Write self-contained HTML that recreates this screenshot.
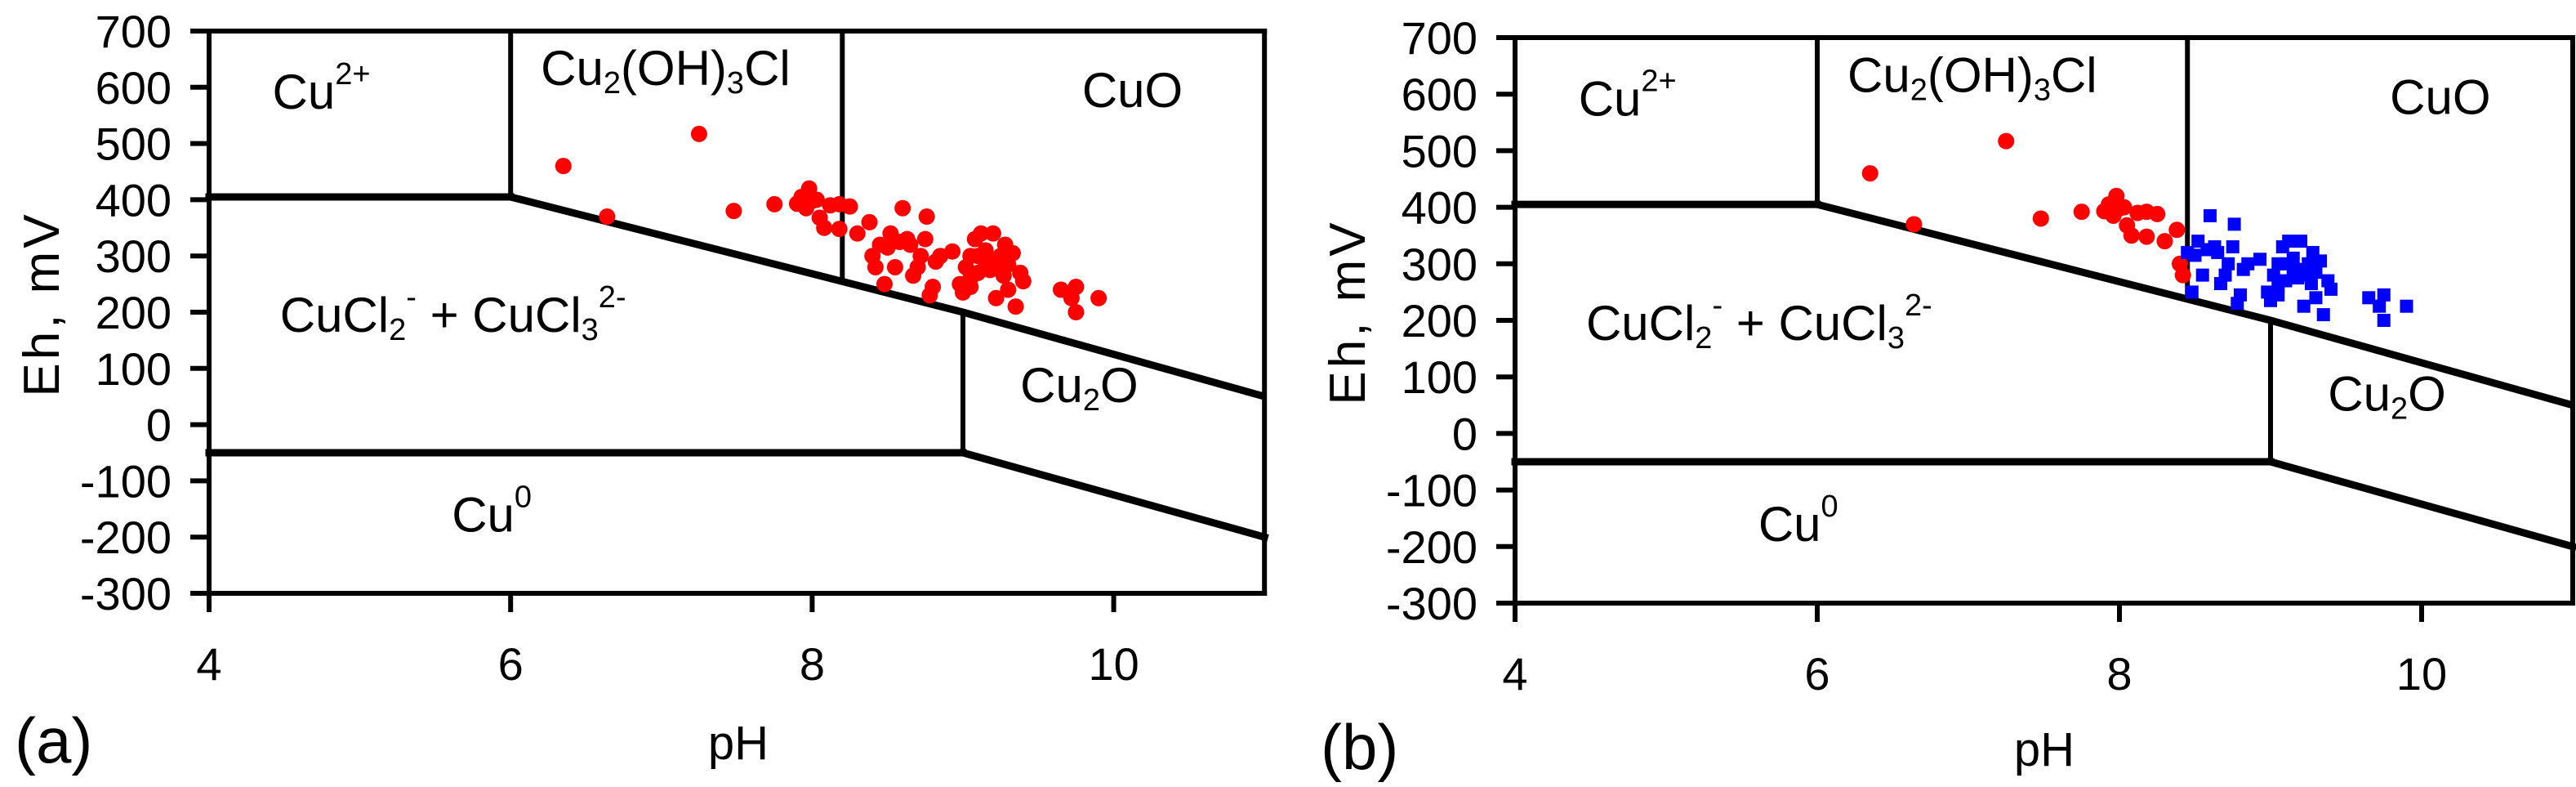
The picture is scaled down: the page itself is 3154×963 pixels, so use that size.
<!DOCTYPE html>
<html><head><meta charset="utf-8"><style>
html,body{margin:0;padding:0;background:#fff;}
svg{display:block;font-family:"Liberation Sans",Arial,sans-serif;}
</style></head><body>
<svg id="chart" width="3154" height="963" viewBox="0 0 3154 963" xmlns="http://www.w3.org/2000/svg"></svg>
<script>
const yTicks = [700,600,500,400,300,200,100,0,-100,-200,-300];
const xTicks = [4,6,8,10];
const samplePH = [6.35,7.25,6.64,7.48,7.75,7.9,7.93,7.96,7.98,8.0,8.03,8.05,8.08,8.12,8.18,8.18,8.25,8.3,8.38,8.4,8.42,8.45,8.48,8.5,8.52,8.55,8.58,8.6,8.63,8.65,8.67,8.7,8.72,8.75,8.76,8.78,8.8,8.82,8.85,8.93,8.98,9.0,9.02,9.05,9.08,9.1,9.12,9.15,9.18,9.2,9.22,9.25,9.27,9.3,9.3,9.33,9.35,9.38,9.4,9.1,9.2,9.25,9.15,9.05,9.28,9.05,9.65,9.72,9.75,9.75,9.9];
const sampleEh = [460,517,370,380,392,393,405,385,420,398,400,368,350,390,392,348,388,340,360,300,280,320,250,315,340,280,325,385,330,320,265,280,300,330,370,230,245,290,300,308,250,235,280,260,330,300,340,290,275,340,225,300,265,285,240,305,210,270,255,270,290,280,310,300,320,245,240,225,245,200,225];
const phaseNames = ["Cu","Cu","CuO","CuCl","Cu","Cu"];
const phaseLabelPH = [4.42,6.2,9.79,4.47,9.38,5.61];
const phaseLabelEh = [562,604,565,165,40,-190];
const splitPH_a = 8.2;
const splitPH_b = 8.45;

const NS="http://www.w3.org/2000/svg";
const svg=document.getElementById('chart');
function mk(tag,attrs,parent){const e=document.createElementNS(NS,tag);for(const k in attrs)e.setAttribute(k,attrs[k]);(parent||svg).appendChild(e);return e;}

function panel(L,T,xu,yu,splitPH,letter,twoColor){
  const g=mk('g',{});
  
  
  const X=p=>L+(p-4)*xu, Y=v=>T+(700-v)*yu;
  const R=X(11), B=Y(-300);
  const line=(x1,y1,x2,y2,w,name)=>{const l=mk('line',{x1,y1,x2,y2,stroke:'#000','stroke-width':w,'stroke-linecap':'square'},g);
    
    return l;};
  line(L,T,R,T,6,'frame-top');line(R,T,R,B,6,'frame-right');
  line(L,T,L,B,6,'y-axis');line(L,B,R,B,6,'x-axis');
  yTicks.forEach(v=>{line(L-20,Y(v),L,Y(v),6,'y-tick');
    const t=mk('text',{x:L-46,y:Y(v)+20,'font-size':56,'text-anchor':'end'},g);t.textContent=v;
    
    });
  xTicks.forEach(p=>{line(X(p),B,X(p),B+20,6,'x-tick');
    const t=mk('text',{x:X(p),y:B+106,'font-size':56,'text-anchor':'middle'},g);t.textContent=p;
    
    });
  line(L,Y(405),X(6),Y(405),9,'boundary-cu2-cucl');
  line(X(6),T,X(6),Y(405),6,'boundary-ph6');
  const pl=mk('polyline',{points:`${X(6)},${Y(405)} ${X(9)},${Y(200)} ${X(11)},${Y(50)}`,fill:'none',stroke:'#000','stroke-width':9},g);
  
  
  const sy=405+(splitPH-6)*(200-405)/3;
  line(X(splitPH),T,X(splitPH),Y(sy),6,'boundary-cuo-split');
  line(X(9),Y(200),X(9),Y(-50),6,'boundary-ph9');
  line(L,Y(-50),X(9),Y(-50),9,'boundary-cu0');
  line(X(9),Y(-50),X(11),Y(-200),9,'boundary-lower-diagonal');
  const labs=[
    ['Cu',[['2+','sup']]],
    ['Cu',[['2','sub'],['(OH)',''],['3','sub'],['Cl','']]],
    ['CuO',[]],
    ['CuCl',[['2','sub'],['-','sup'],[' + CuCl',''],['3','sub'],['2-','sup']]],
    ['Cu',[['2','sub'],['O','']]],
    ['Cu',[['0','sup']]]];
  labs.forEach((lb,i)=>{
    const t=mk('text',{x:X(phaseLabelPH[i]),y:Y(phaseLabelEh[i]),'font-size':60},g);
    
    
    const s0=mk('tspan',{},t);s0.textContent=phaseNames[i];
    let shift=0;
    lb[1].forEach(([txt,k])=>{
      const target=k==='sub'?10:k==='sup'?-30:0;
      const sp=mk('tspan',{dy:target-shift,'font-size':k?38:60},t);shift=target;
      sp.textContent=txt;
    });
  });
  samplePH.forEach((p,i)=>{
    const v=sampleEh[i];
    if(twoColor && p>=splitPH){
      const r=mk('rect',{x:X(p)-8,y:Y(v)-8,width:16,height:16,fill:'#0000ff'},g);
      
      
    } else {
      const c=mk('circle',{cx:X(p),cy:Y(v),r:10,fill:'#ff0000'},g);
      
      
    }
  });
  const yt=mk('text',{x:0,y:0,'font-size':62,'letter-spacing':4,'text-anchor':'middle',transform:`translate(${L-184},${(T+B)/2-10}) rotate(-90)`},g);
  yt.textContent='Eh, mV';
  
  
  const xt=mk('text',{x:L+648,y:T+891,'font-size':58,'text-anchor':'middle'},g);
  xt.textContent='pH';
  
  
  const pt=mk('text',{x:L-238,y:T+895,'font-size':78},g);
  pt.textContent='('+letter+')';
  
  
}
panel(256,38,184.6,0.688,splitPH_a,'a',false);
panel(1855,46,185,0.692,splitPH_b,'b',true);
</script>
</body></html>
